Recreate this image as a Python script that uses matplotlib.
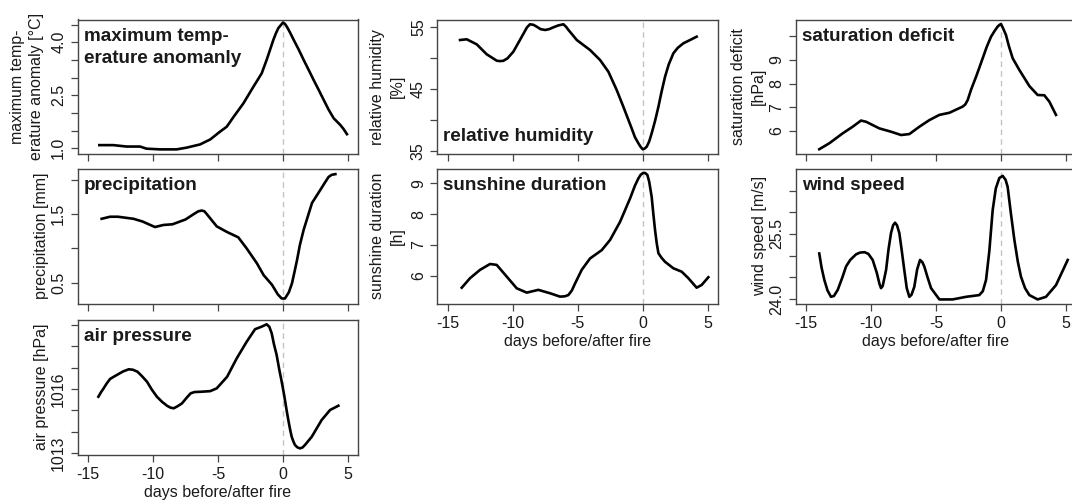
import matplotlib
matplotlib.use('Agg')
import matplotlib.pyplot as plt

plt.rcParams['font.family'] = ['Liberation Sans', 'DejaVu Sans']

# ---------------- data ----------------
xticks = [-15, -10, -5, 0, 5]
xtick_labels = ['-15', '-10', '-5', '0', '5']

maxtemp_days = [-14.13, -13.05, -12.03, -11.0, -10.5, -9.46, -8.18, -7.4, -6.38, -5.6, -4.85, -4.33,
                -3.82, -3.05, -2.28, -1.64, -1.26, -0.74, -0.55, -0.36, 0.0, 0.15, 0.3, 0.55, 0.82,
                1.2, 1.59, 2.0, 2.36, 2.75, 3.13, 3.5, 3.9, 4.41, 4.65, 4.92]
maxtemp_vals = [1.09, 1.09, 1.05, 1.05, 0.99, 0.97, 0.97, 1.02, 1.11, 1.25, 1.47, 1.61,
                1.88, 2.27, 2.74, 3.12, 3.50, 4.07, 4.25, 4.40, 4.56, 4.52, 4.44, 4.27, 4.07,
                3.80, 3.50, 3.20, 2.93, 2.65, 2.37, 2.10, 1.85, 1.66, 1.55, 1.40]

precip_days = [-13.95, -13.3, -12.7, -11.5, -10.8, -9.85, -9.2, -8.5, -7.5, -6.77, -6.5, -6.26, -6.05,
               -5.87, -5.1, -4.33, -3.44, -2.8, -2.0, -1.49, -0.85, -0.4, -0.1, 0.15, 0.45, 0.69,
               0.9, 1.08, 1.3, 1.59, 2.23, 2.5, 2.87, 3.2, 3.51, 3.75, 4.03]
precip_vals = [1.43, 1.46, 1.46, 1.43, 1.39, 1.31, 1.34, 1.35, 1.42, 1.51, 1.54, 1.55, 1.54,
               1.50, 1.32, 1.24, 1.16, 1.00, 0.78, 0.61, 0.47, 0.33, 0.27, 0.27, 0.36, 0.49,
               0.67, 0.83, 1.05, 1.27, 1.66, 1.74, 1.85, 1.95, 2.04, 2.07, 2.08]

pressure_days = [-14.2, -14.0, -13.8, -13.55, -13.3, -13.0, -12.65, -12.3, -11.87, -11.55, -11.2,
                 -10.85, -10.46, -10.1, -9.7, -9.3, -8.9, -8.65, -8.4, -8.1, -7.77, -7.4, -7.1,
                 -6.8, -6.36, -5.6, -5.1, -4.3, -3.56, -2.79, -2.15, -1.64, -1.26, -1.05, -0.87,
                 -0.7, -0.49, -0.3, -0.1, 0.05, 0.15, 0.28, 0.41, 0.55, 0.67, 0.8, 0.92, 1.1, 1.31,
                 1.5, 1.69, 2.21, 2.97, 3.62, 4.26]
pressure_vals = [1015.64, 1015.85, 1016.03, 1016.27, 1016.47, 1016.58, 1016.70, 1016.82, 1016.92,
                 1016.90, 1016.81, 1016.60, 1016.34, 1015.98, 1015.64, 1015.40, 1015.21, 1015.13,
                 1015.10, 1015.20, 1015.33, 1015.60, 1015.80, 1015.86, 1015.87, 1015.90, 1016.03,
                 1016.57, 1017.43, 1018.21, 1018.79, 1018.91, 1019.02, 1018.90, 1018.60, 1018.10,
                 1017.59, 1016.95, 1016.34, 1015.85, 1015.49, 1015.00, 1014.55, 1014.10, 1013.77,
                 1013.55, 1013.39, 1013.28, 1013.23, 1013.27, 1013.39, 1013.77, 1014.55, 1015.02,
                 1015.22]

rh_days = [-14.05, -13.54, -12.77, -12.0, -11.23, -11.0, -10.72, -10.4, -9.95, -9.3, -8.9, -8.67,
           -8.4, -8.15, -7.85, -7.5, -7.2, -6.87, -6.5, -6.1, -5.9, -5.71, -5.07, -4.05, -3.28,
           -2.64, -2.0, -1.49, -0.85, -0.6, -0.33, -0.15, 0.0, 0.15, 0.31, 0.5, 0.69, 0.95, 1.21,
           1.45, 1.72, 2.0, 2.36, 2.7, 3.13, 3.64, 4.15]
rh_vals = [52.85, 52.97, 52.16, 50.55, 49.52, 49.45, 49.50, 49.90, 50.97, 53.39, 54.90, 55.39,
           55.30, 55.0, 54.60, 54.47, 54.60, 54.9, 55.20, 55.39, 55.00, 54.47, 52.85, 51.24, 49.63,
           47.74, 44.79, 42.1, 38.61, 37.20, 36.19, 35.60, 35.23, 35.35, 35.65, 36.50, 37.8, 39.80,
           42.1, 44.50, 46.94, 48.90, 50.71, 51.60, 52.32, 52.85, 53.39]

sun_days = [-13.92, -13.28, -12.51, -11.74, -11.23, -10.46, -9.69, -8.92, -8.03, -7.13, -6.36, -6.0,
            -5.72, -5.45, -5.2, -4.69, -4.05, -3.15, -2.51, -1.74, -0.97, -0.6, -0.33, -0.15, 0.05,
            0.2, 0.36, 0.5, 0.69, 0.82, 0.95, 1.08, 1.21, 1.45, 1.72, 2.36, 3.0, 3.51, 4.15, 4.54,
            5.05]
sun_vals = [5.61, 5.92, 6.19, 6.38, 6.35, 5.97, 5.59, 5.45, 5.54, 5.43, 5.32, 5.33,
            5.37, 5.52, 5.75, 6.19, 6.56, 6.83, 7.16, 7.75, 8.51, 8.92, 9.16, 9.28, 9.34,
            9.33, 9.27, 9.05, 8.56, 8.00, 7.48, 7.05, 6.73, 6.58, 6.45, 6.24, 6.13, 5.92, 5.61,
            5.70, 5.95]

satdef_days = [-13.98, -13.21, -12.18, -11.41, -10.77, -10.38, -9.36, -8.46, -7.69, -7.05, -6.28, -5.51,
               -4.74, -3.97, -2.95, -2.75, -2.56, -2.3, -1.92, -1.65, -1.41, -1.1, -0.77, -0.5, -0.26,
               -0.12, 0.0, 0.15, 0.38, 0.6, 0.9, 1.41, 2.18, 2.82, 3.33, 3.72, 4.23]
satdef_vals = [5.23, 5.48, 5.90, 6.18, 6.44, 6.39, 6.11, 5.97, 5.83, 5.87, 6.18, 6.46,
               6.68, 6.77, 7.03, 7.12, 7.31, 7.75, 8.29, 8.70, 9.07, 9.55, 9.98, 10.22, 10.41,
               10.48, 10.52, 10.35, 10.06, 9.60, 9.07, 8.58, 7.90, 7.52, 7.51, 7.24, 6.68]

wind_days = [-13.98, -13.8, -13.59, -13.35, -13.08, -12.85, -12.56, -12.2, -11.92, -11.6, -11.15, -10.85,
             -10.5, -10.2, -9.87, -9.55, -9.35, -9.23, -9.1, -8.84, -8.65, -8.46, -8.3, -8.15, -8.0,
             -7.82, -7.65, -7.44, -7.25, -7.05, -6.88, -6.67, -6.45, -6.23, -6.05, -5.9, -5.65, -5.38,
             -4.74, -3.72, -2.69, -1.67, -1.4, -1.15, -0.9, -0.64, -0.4, -0.13, 0.13, 0.35, 0.51,
             0.75, 1.03, 1.3, 1.54, 1.85, 2.18, 2.82, 3.46, 4.23, 5.13]
wind_vals = [25.05, 24.72, 24.44, 24.20, 24.05, 24.07, 24.21, 24.50, 24.75, 24.90, 25.03, 25.07,
             25.08, 25.04, 24.90, 24.60, 24.35, 24.25, 24.30, 24.67, 25.15, 25.52, 25.70, 25.76, 25.70,
             25.52, 25.15, 24.67, 24.25, 24.05, 24.10, 24.28, 24.68, 24.90, 24.85, 24.75, 24.50, 24.25,
             23.99, 23.99, 24.05, 24.09, 24.18, 24.44, 25.10, 26.05, 26.55, 26.79, 26.84, 26.75, 26.59,
             26.00, 25.36, 24.85, 24.51, 24.25, 24.09, 23.99, 24.05, 24.32, 24.90]

# ---------------- layout ----------------
W, H = 1072, 500
fig = plt.figure(figsize=(W / 100, H / 100), dpi=100)

cols = [(77.6, 358.4), (437.3, 718.1), (795.6, 1076.4)]
rows = [(19.5, 154.0), (168.5, 303.5), (320.0, 454.5)]

def rect(c, r):
    x0, x1 = cols[c]
    y0, y1 = rows[r]
    return [x0 / W, 1 - y1 / H, (x1 - x0) / W, (y1 - y0) / H]

BOXC = '#444444'
TXTC = '#1a1a1a'
FS = 11.5
TFS = 13.6

panels = [
    dict(c=0, r=0, x=maxtemp_days, y=maxtemp_vals, ylim=(0.839, 4.645),
         yt=[1.0, 1.5, 2.0, 2.5, 3.0, 3.5, 4.0, 4.5], ytl=['1.0', '', '', '2.5', '', '', '4.0', ''],
         ylab='maximum temp-\nerature anomaly [°C]', title='maximum temp-\nerature anomanly',
         tpos='top', xl=False, ylx=-0.18),
    dict(c=0, r=1, x=precip_days, y=precip_vals, ylim=(0.197, 2.162),
         yt=[0.5, 1.0, 1.5, 2.0], ytl=['0.5', '', '1.5', ''],
         ylab='precipitation [mm]', title='precipitation', tpos='top', xl=False, ylx=-0.13),
    dict(c=0, r=2, x=pressure_days, y=pressure_vals, ylim=(1012.944, 1019.22),
         yt=[1013, 1014, 1015, 1016, 1017, 1018, 1019], ytl=['1013', '', '', '1016', '', '', ''],
         ylab='air pressure [hPa]', title='air pressure', tpos='top', xl=True, ylx=-0.13),
    dict(c=1, r=0, x=rh_days, y=rh_vals, ylim=(34.47, 56.16),
         yt=[35, 40, 45, 50, 55], ytl=['35', '', '45', '', '55'],
         ylab='relative humidity\n[%]', title='relative humidity', tpos='bottom', xl=False,
         ylx=-0.177),
    dict(c=1, r=1, x=sun_days, y=sun_vals, ylim=(5.097, 9.48),
         yt=[6, 7, 8, 9], ytl=['6', '7', '8', '9'],
         ylab='sunshine duration\n[h]', title='sunshine duration', tpos='top', xl=True,
         ylx=-0.177),
    dict(c=2, r=0, x=satdef_days, y=satdef_vals, ylim=(5.028, 10.71),
         yt=[6, 7, 8, 9, 10], ytl=['6', '7', '8', '9', ''],
         ylab='saturation deficit\n[hPa]', title='saturation deficit', tpos='top', xl=False,
         ylx=-0.168),
    dict(c=2, r=1, x=wind_days, y=wind_vals, ylim=(23.896, 27.01),
         yt=[24.0, 24.5, 25.0, 25.5, 26.0, 26.5], ytl=['24.0', '', '', '25.5', '', ''],
         ylab='wind speed [m/s]', title='wind speed', tpos='top', xl=True, ylx=-0.127),
]

for p in panels:
    ax = fig.add_axes(rect(p['c'], p['r']))
    ax.axvline(0, color='#c4c4c4', lw=1.0, ls=(0, (4, 3)), zorder=1)
    ax.plot(p['x'], p['y'], color='black', lw=1.9, zorder=3, solid_joinstyle='round')
    ax.set_xlim(-15.8, 5.8)
    ax.set_ylim(*p['ylim'])
    for s in ax.spines.values():
        s.set_color(BOXC)
        s.set_linewidth(1.0)
    ax.tick_params(direction='out', length=5.2, width=0.9, color=BOXC,
                   labelsize=FS, labelcolor=TXTC, top=False, right=False)
    ax.tick_params(axis='x', pad=3.5)
    ax.tick_params(axis='y', pad=3)
    ax.set_xticks(xticks)
    if p['xl']:
        ax.set_xticklabels(xtick_labels)
        ax.set_xlabel('days before/after fire', fontsize=FS, color=TXTC)
        ax.xaxis.set_label_coords(0.5, -0.28)
        ax.xaxis.label.set_va('center')
    else:
        ax.set_xticklabels([])
    ax.set_yticks(p['yt'])
    ax.set_yticklabels(p['ytl'], rotation=90, va='center')
    ax.set_ylabel(p['ylab'], fontsize=FS, color=TXTC, linespacing=1.4)
    ax.yaxis.set_label_coords(p['ylx'], 0.5)
    ax.yaxis.label.set_va('center')
    if p['tpos'] == 'top':
        ax.text(0.022, 0.94, p['title'], transform=ax.transAxes, ha='left', va='top',
                fontsize=TFS, fontweight='bold', color=TXTC, linespacing=1.4)
    else:
        ax.text(0.022, 0.1, p['title'], transform=ax.transAxes, ha='left', va='baseline',
                fontsize=TFS, fontweight='bold', color=TXTC)

fig.savefig('out.png', dpi=100)
